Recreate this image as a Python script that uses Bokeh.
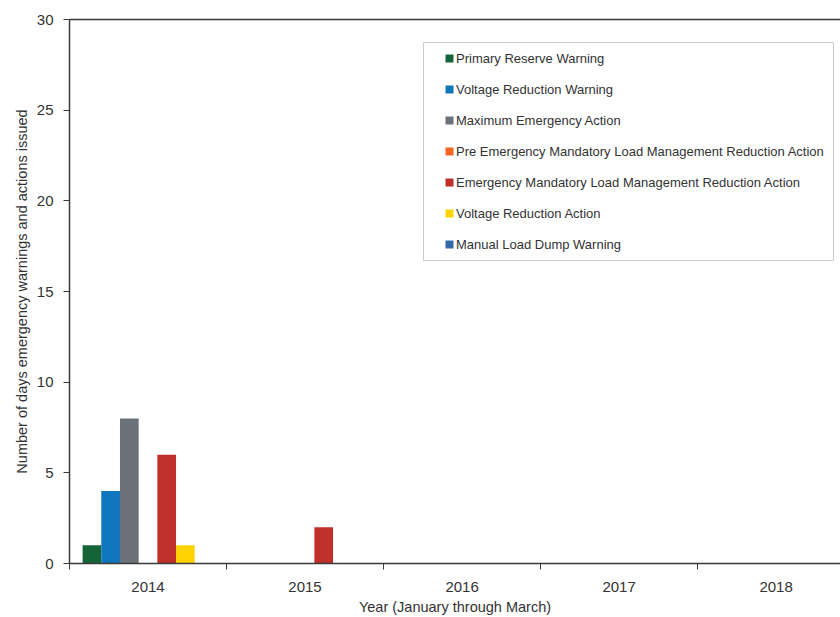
from bokeh.plotting import figure
from bokeh.models import (Range1d, FixedTicker, LinearAxis, Legend, LegendItem,
                          ColumnDataSource, BoxAnnotation)
from bokeh.transform import dodge
from bokeh.embed import file_html
from bokeh.resources import INLINE

years = ["2014", "2015", "2016", "2017", "2018"]
series_names = [
    "Primary Reserve Warning",
    "Voltage Reduction Warning",
    "Maximum Emergency Action",
    "Pre Emergency Mandatory Load Management Reduction Action",
    "Emergency Mandatory Load Management Reduction Action",
    "Voltage Reduction Action",
    "Manual Load Dump Warning",
]
primary_reserve_warning = [1, 0, 0, 0, 0]
voltage_reduction_warning = [4, 0, 0, 0, 0]
maximum_emergency_action = [8, 0, 0, 0, 0]
pre_emergency_mandatory = [0, 0, 0, 0, 0]
emergency_mandatory = [6, 2, 0, 0, 0]
voltage_reduction_action = [1, 0, 0, 0, 0]
manual_load_dump_warning = [0, 0, 0, 0, 0]
y_ticks = [0, 5, 10, 15, 20, 25, 30]

colors = ["#146437", "#0f75bd", "#6a717a", "#f26522", "#c0302a", "#ffd204", "#3469a8"]
values = [primary_reserve_warning, voltage_reduction_warning, maximum_emergency_action,
          pre_emergency_mandatory, emergency_mandatory, voltage_reduction_action,
          manual_load_dump_warning]

FONT = "Liberation Sans"
TXT = "#333333"
AX = "#3a3a3a"

centers = [i + 0.5 for i in range(len(years))]
data = {"x": centers}
for k, v in enumerate(values):
    data[f"s{k}"] = v
src = ColumnDataSource(data)

p = figure(width=840, height=617, x_range=Range1d(0, 4.91), y_range=Range1d(0, 30),
           output_backend="svg", toolbar_location=None,
           min_border_left=69, min_border_right=0, min_border_top=19, min_border_bottom=54)
p.grid.visible = False
p.outline_line_color = None
p.background_fill_color = "white"
p.border_fill_color = "white"

bw = 0.119
renderers = []
for k in range(len(series_names)):
    r = p.vbar(x=dodge("x", (k - 3) * bw, range=p.x_range), top=f"s{k}", width=bw,
               source=src, fill_color=colors[k], line_color=None)
    renderers.append(r)

# x axis: labels at centers, ticks at boundaries
xa = p.xaxis[0]
xa.ticker = FixedTicker(ticks=centers, minor_ticks=[0, 1, 2, 3, 4])
xa.major_label_overrides = {c: y for c, y in zip(centers, years)}
xa.major_tick_out = 0
xa.major_tick_in = 0
xa.minor_tick_out = 6
xa.minor_tick_in = 0
xa.minor_tick_line_color = AX
xa.minor_tick_line_width = 1
xa.axis_line_color = AX
xa.axis_line_width = 1.5
xa.major_label_text_font = FONT
xa.major_label_text_font_size = "15px"
xa.major_label_text_color = TXT
xa.major_label_standoff = 12
xa.axis_label = "Year (January through March)"
xa.axis_label_text_font = FONT
xa.axis_label_text_font_size = "14.5px"
xa.axis_label_text_font_style = "normal"
xa.axis_label_text_color = TXT
xa.axis_label_standoff = 4

ya = p.yaxis[0]
ya.ticker = FixedTicker(ticks=y_ticks)
ya.major_tick_out = 6
ya.major_tick_in = 0
ya.major_tick_line_color = AX
ya.minor_tick_line_color = None
ya.axis_line_color = AX
ya.axis_line_width = 1.5
ya.major_label_text_font = FONT
ya.major_label_text_font_size = "15px"
ya.major_label_text_color = TXT
ya.major_label_standoff = 10
ya.axis_label = "Number of days emergency warnings and actions issued"
ya.axis_label_text_font = FONT
ya.axis_label_text_font_size = "14.5px"
ya.axis_label_text_font_style = "normal"
ya.axis_label_text_color = TXT
ya.axis_label_standoff = 4

top = LinearAxis(ticker=FixedTicker(ticks=[]), major_tick_out=0, major_tick_in=0,
                 minor_tick_out=0, minor_tick_in=0, major_label_text_font_size="0px",
                 axis_line_color=AX, axis_line_width=1.5)
p.add_layout(top, "above")

# legend frame
p.add_layout(BoxAnnotation(left=423, right=833, top=42, bottom=260,
                           left_units="canvas", right_units="canvas",
                           top_units="canvas", bottom_units="canvas",
                           fill_color="white", fill_alpha=1.0,
                           line_color="#555555", line_width=1, level="overlay"))

legend = Legend(items=[LegendItem(label=n, renderers=[r]) for n, r in zip(series_names, renderers)],
                location=(375, 309), padding=0, margin=0, spacing=11, label_height=20,
                glyph_width=10, glyph_height=10, label_standoff=2,
                label_text_font=FONT, label_text_font_size="13px", label_text_color=TXT,
                border_line_color=None, background_fill_alpha=0)
p.add_layout(legend, "center")

open("out.html", "w").write(file_html(p, INLINE))
